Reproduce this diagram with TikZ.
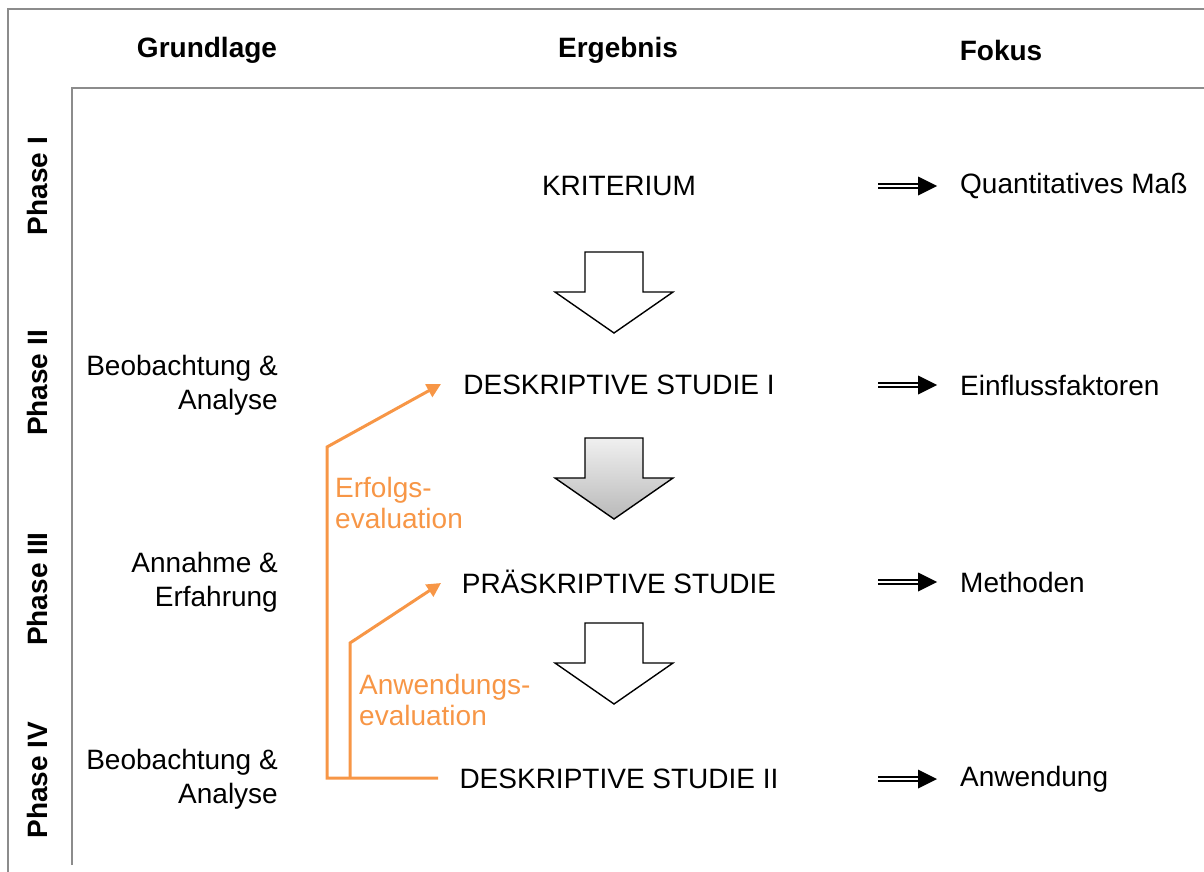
\documentclass[tikz,border=0pt]{standalone}
\usepackage{fontspec}
\setmainfont{Liberation Sans}
\usetikzlibrary{arrows.meta,shadows}
\definecolor{orng}{HTML}{F79646}
\definecolor{framegray}{HTML}{8C8C8C}
\begin{document}
\begin{tikzpicture}[x=1pt,y=-1pt,
  txt/.style={font=\fontsize{28}{34}\selectfont, inner sep=0pt},
  hdr/.style={font=\fontsize{28}{34}\selectfont\bfseries, inner sep=0pt},
  otxt/.style={font=\fontsize{28}{31}\selectfont, inner sep=0pt, text=orng, align=left, anchor=west},
  frameline/.style={draw=framegray, line width=2pt},
  oline/.style={draw=orng, line width=3pt, line join=miter},
  otip/.style={-{Triangle[length=14pt,width=14pt]}},
  dblline/.style={line width=2pt, double, double distance=2pt},
  barrow/.style={draw=black, line width=1.4pt, line join=miter,
     drop shadow={opacity=0.25, shadow xshift=2pt, shadow yshift=-2pt}},
  blockarr/.pic={\path[pic actions] (-29,0) -- (29,0) -- (29,40) -- (59,40) -- (0,81) -- (-59,40) -- (-29,40) -- cycle;},
  fokarr/.pic={\draw[dblline] (0,0) -- (44,0); \fill (40,-9.5) -- (59,0) -- (40,9.5) -- cycle;}
]
\useasboundingbox (0,0) rectangle (1204,872);

% frame lines
\draw[frameline] (8,872) -- (8,9) -- (1204,9);
\draw[frameline] (72,865) -- (72,88) -- (1204,88);

% headers
\node[hdr] (hg) at (207,50) {Grundlage};
\node[hdr] (he) at (618,50) {Ergebnis};
\node[hdr] (hf) at (1001,50) {Fokus};

% phases
\node[hdr, rotate=90] (p1) at (37,186) {Phase I};
\node[hdr, rotate=90] (p2) at (37,383) {Phase II};
\node[hdr, rotate=90] (p3) at (37,589) {Phase III};
\node[hdr, rotate=90] (p4) at (37,780) {Phase IV};

% Grundlage
\node[txt, align=right, anchor=east] (g2) at (278,385) {Beobachtung \&\\Analyse};
\node[txt, align=right, anchor=east] (g3) at (278,582) {Annahme \&\\Erfahrung};
\node[txt, align=right, anchor=east] (g4) at (278,779) {Beobachtung \&\\Analyse};

% Ergebnis
\node[txt] (k)   at (619,186) {KRITERIUM};
\node[txt] (ds1) at (619,385) {DESKRIPTIVE STUDIE I};
\node[txt] (ps)  at (619,582) {PRÄSKRIPTIVE STUDIE};
\node[txt] (ds2) at (619,779) {DESKRIPTIVE STUDIE II};

% block arrows
\pic[barrow, fill=white] at (614,252) {blockarr};
\pic[barrow, top color=gray!12, bottom color=gray!55] at (614,438) {blockarr};
\pic[barrow, fill=white] at (614,623) {blockarr};

% Fokus
\pic at (878,186) {fokarr};
\pic at (878,385) {fokarr};
\pic at (878,582) {fokarr};
\pic at (878,779) {fokarr};
\node[txt, anchor=west] (f1) at (960,186) {Quantitatives Maß};
\node[txt, anchor=west] (f2) at (960,385) {Einflussfaktoren};
\node[txt, anchor=west] (f3) at (960,582) {Methoden};
\node[txt, anchor=west] (f4) at (960,779) {Anwendung};

% orange feedback arrows
\coordinate (bend) at (438,778);
\coordinate (c1) at (327,778);
\coordinate (c1u) at (327,447);
\coordinate (t1) at (441,384);
\coordinate (c2) at (350,778);
\coordinate (c2u) at (350,643);
\coordinate (t2) at (441,583);
\draw[oline, otip] (bend) -- (c1) -- (c1u) -- (t1);
\draw[oline, otip] (c2) -- (c2u) -- (t2);
\node[otxt] (l1) at (335,503) {Erfolgs-\\evaluation};
\node[otxt] (l2) at (359,700) {Anwendungs-\\evaluation};
\end{tikzpicture}
\end{document}
